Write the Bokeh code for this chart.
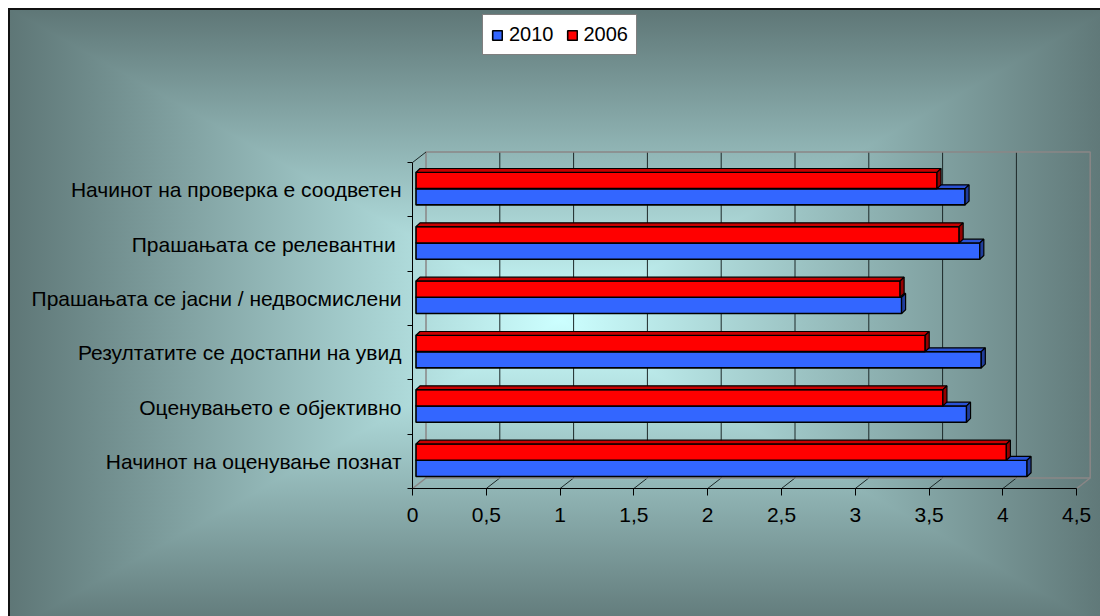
import base64
from bokeh.plotting import figure
from bokeh.models import Range1d, FixedTicker, Legend, LegendItem
from bokeh.embed import file_html
from bokeh.resources import INLINE

# ---------------- data ----------------
categories = [
    "Начинот на оценување познат",
    "Оценувањето е објективно",
    "Резултатите се достапни на увид",
    "Прашањата се јасни / недвосмислени",
    "Прашањата се релевантни ",
    "Начинот на проверка е соодветен",
]
values_2010 = [4.14, 3.73, 3.83, 3.29, 3.82, 3.72]
values_2006 = [4.00, 3.57, 3.45, 3.28, 3.68, 3.53]
series_names = ["2010", "2006"]
x_ticks = [0, 0.5, 1, 1.5, 2, 2.5, 3, 3.5, 4, 4.5]
x_tick_labels = ["0", "0,5", "1", "1,5", "2", "2,5", "3", "3,5", "4", "4,5"]

# ---------------- layout / style ----------------
FIG_W, FIG_H = 1100, 616
OFF = 8                 # white page margin seen in the reference
LEFT, BOTTOM, TOP = 412, 128, OFF
PX_X = 147.6           # pixels per value unit
PX_Y = 54.33           # pixels per category
frame_w = FIG_W - LEFT
frame_h = FIG_H - BOTTOM - TOP
x_end = frame_w / PX_X
y_end = frame_h / PX_Y
n = len(categories)
x_max = x_ticks[-1]

# 3D depth of the box (pixels -> data units)
ddx, ddy = 13.5 / PX_X, 10.5 / PX_Y
# bar placement inside the depth and bar depth
bx, by = 3.5 / PX_X, 2.7 / PX_Y
bdx, bdy = 4.0 / PX_X, 3.8 / PX_Y
hb = 16.3 / PX_Y
pair_shift = -0.03

FONT = "Liberation Sans"

# background (rectangular "from centre" gradient like the original)
BW, BH = FIG_W - OFF, FIG_H - OFF
cw, ch = 1104, 624
cx, cy = cw / 2, ch / 2
c_in, c_out = "#ccffff", "#5e7676"
svg = f"""<svg xmlns='http://www.w3.org/2000/svg' width='{BW}' height='{BH}'>
<defs>
<linearGradient id='t' gradientUnits='userSpaceOnUse' x1='0' y1='0' x2='0' y2='{cy}'><stop offset='0' stop-color='{c_out}'/><stop offset='1' stop-color='{c_in}'/></linearGradient>
<linearGradient id='b' gradientUnits='userSpaceOnUse' x1='0' y1='{ch}' x2='0' y2='{cy}'><stop offset='0' stop-color='{c_out}'/><stop offset='1' stop-color='{c_in}'/></linearGradient>
<linearGradient id='l' gradientUnits='userSpaceOnUse' x1='0' y1='0' x2='{cx}' y2='0'><stop offset='0' stop-color='{c_out}'/><stop offset='1' stop-color='{c_in}'/></linearGradient>
<linearGradient id='r' gradientUnits='userSpaceOnUse' x1='{cw}' y1='0' x2='{cx}' y2='0'><stop offset='0' stop-color='{c_out}'/><stop offset='1' stop-color='{c_in}'/></linearGradient>
</defs>
<g shape-rendering='crispEdges'>
<polygon points='0,0 {cw},0 {cx},{cy}' fill='url(#t)'/>
<polygon points='0,{ch} {cw},{ch} {cx},{cy}' fill='url(#b)'/>
<polygon points='0,0 0,{ch} {cx},{cy}' fill='url(#l)'/>
<polygon points='{cw},0 {cw},{ch} {cx},{cy}' fill='url(#r)'/>
<rect x='0' y='0' width='{cw}' height='2' fill='#111'/>
<rect x='0' y='0' width='2' height='{ch}' fill='#111'/>
</g></svg>"""
b64 = base64.b64encode(svg.encode("utf-8")).decode("ascii")

p = figure(
    width=FIG_W, height=FIG_H,
    x_range=Range1d(0, x_end), y_range=Range1d(0, y_end),
    output_backend="svg", toolbar_location=None,
)
p.min_border = 0
p.min_border_left = LEFT
p.min_border_bottom = BOTTOM
p.min_border_top = TOP
p.background_fill_alpha = 0
p.border_fill_alpha = 0
p.outline_line_color = None
p.xgrid.visible = False
p.ygrid.visible = False
p.styles = {
    "background-color": "white",
    "background-image": f"url('data:image/svg+xml;base64,{b64}')",
    "background-repeat": "no-repeat",
    "background-position": f"{OFF}px {OFF}px",
    "background-size": f"{BW}px {BH}px",
}

# ---------------- 3D box (walls / floor) ----------------
inner = x_ticks[1:-1]
p.segment(x0=[t + ddx for t in inner], y0=[ddy] * len(inner),
          x1=[t + ddx for t in inner], y1=[n + ddy] * len(inner),
          line_color="#1c2828", line_width=1)
p.segment(x0=inner, y0=[0] * len(inner),
          x1=[t + ddx for t in inner], y1=[ddy] * len(inner),
          line_color="#1c2828", line_width=1)
edge_c = "#8a8686"
p.line(x=[ddx, ddx, x_max + ddx, x_max + ddx, ddx],
       y=[ddy, n + ddy, n + ddy, ddy, ddy], line_color=edge_c, line_width=1.5)
p.segment(x0=[0, x_max], y0=[0, 0], x1=[ddx, x_max + ddx], y1=[ddy, ddy],
          line_color=edge_c, line_width=1.5)
p.segment(x0=[0], y0=[n], x1=[ddx], y1=[n + ddy], line_color="#1c2828", line_width=1)

# ---------------- bars ----------------
centers = [i + 0.5 for i in range(n)]


def draw_bar(vals, offset, front, top, side):
    left = bx
    rights = [v + bx for v in vals]
    bottoms = [c + offset - hb / 2 + by for c in centers]
    tops = [b + hb for b in bottoms]
    top_xs = [[left, r, r + bdx, left + bdx] for r in rights]
    top_ys = [[t, t, t + bdy, t + bdy] for t in tops]
    end_xs = [[r, r, r + bdx, r + bdx] for r in rights]
    end_ys = [[b, t, t + bdy, b + bdy] for b, t in zip(bottoms, tops)]
    fr = p.quad(left=[left] * n, right=rights, bottom=bottoms, top=tops,
                fill_color=front, line_color="black", line_width=1.6)
    p.patches(xs=top_xs, ys=top_ys, fill_color=top, line_color="black", line_width=1.2)
    p.patches(xs=end_xs, ys=end_ys, fill_color=side, line_color="black", line_width=1.2)
    return fr


blue = draw_bar(values_2010, pair_shift - hb / 2, "#3366ff", "#2a52d6", "#1f3d9c")
red = draw_bar(values_2006, pair_shift + hb / 2, "#ff0000", "#c80000", "#960000")

# ---------------- axes ----------------
xa = p.xaxis[0]
xa.bounds = (0, x_max)
xa.ticker = FixedTicker(ticks=x_ticks, minor_ticks=[])
xa.major_label_overrides = {t: l for t, l in zip(x_ticks, x_tick_labels)}
xa.major_tick_out = 7
xa.major_tick_in = 0
xa.minor_tick_out = 0
xa.major_label_standoff = 12
xa.major_label_text_font = FONT
xa.major_label_text_font_size = "21px"
xa.major_label_text_color = "black"
xa.axis_line_color = "black"
xa.major_tick_line_color = "black"

ya = p.yaxis[0]
ya.bounds = (0, n)
ya.ticker = FixedTicker(ticks=centers, minor_ticks=list(range(n + 1)))
ya.major_label_overrides = {c: lab for c, lab in zip(centers, categories)}
ya.major_tick_out = 0
ya.major_tick_in = 0
ya.minor_tick_out = 5
ya.minor_tick_in = 0
ya.minor_tick_line_color = "black"
ya.major_label_standoff = 6
ya.major_label_text_font = FONT
ya.major_label_text_font_size = "21px"
ya.major_label_text_color = "black"
ya.axis_line_color = "black"

# ---------------- legend ----------------
LEG_H = 39
legend = Legend(
    items=[LegendItem(label=series_names[0], renderers=[blue]),
           LegendItem(label=series_names[1], renderers=[red])],
    orientation="horizontal",
    location=(70, frame_h - 8 - LEG_H),
    background_fill_color="white", background_fill_alpha=1.0,
    border_line_color="black", border_line_width=1,
    label_text_font=FONT, label_text_font_size="20px", label_text_color="black",
    glyph_width=12, glyph_height=12, label_standoff=6, spacing=12,
    padding=8, margin=0, label_height=20,
)
p.add_layout(legend)

open("out.html", "w").write(file_html(p, INLINE))
